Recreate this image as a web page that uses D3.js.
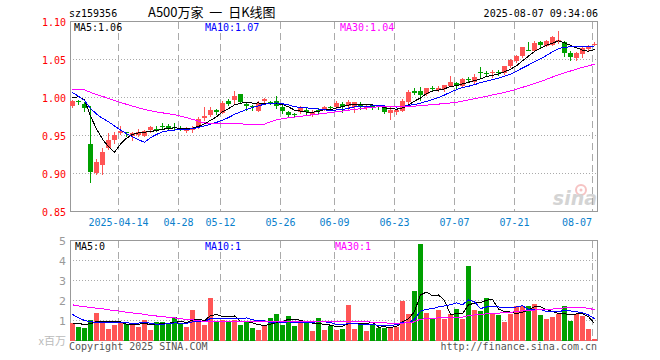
<!DOCTYPE html>
<html>
<head>
<meta charset="utf-8">
<script src="https://cdnjs.cloudflare.com/ajax/libs/d3/7.8.5/d3.min.js"></script>
<style>
  body { margin: 0; background: #fff; }
  svg text { font-family: 'DejaVu Sans Mono', monospace; font-size: 10px; }
</style>
</head>
<body>
<div id="chart"></div>
<script>
// daily bars, 2025-04-01 .. 2025-08-07
var dates = ['04-01','04-02','04-03','04-07','04-08','04-09','04-10','04-11','04-14','04-15','04-16','04-17','04-18','04-21','04-22','04-23','04-24','04-25','04-28','04-29','04-30',
  '05-06','05-07','05-08','05-09','05-12','05-13','05-14','05-15','05-16','05-19','05-20','05-21','05-22','05-23','05-26','05-27','05-28','05-29','05-30',
  '06-03','06-04','06-05','06-06','06-09','06-10','06-11','06-12','06-13','06-16','06-17','06-18','06-19','06-20','06-23','06-24','06-25','06-26','06-27','06-30',
  '07-01','07-02','07-03','07-04','07-07','07-08','07-09','07-10','07-11','07-14','07-15','07-16','07-17','07-18','07-21','07-22','07-23','07-24','07-25','07-28','07-29','07-30','07-31',
  '08-01','08-04','08-05','08-06','08-07'];

var opens = [0.989,0.995,0.992,0.939,0.901,0.911,0.933,0.944,0.953,0.954,0.949,0.950,0.950,0.957,0.959,0.963,0.963,0.961,0.960,0.957,0.957,
  0.961,0.974,0.977,0.984,0.980,0.996,0.997,1.004,0.991,0.989,0.983,0.995,0.994,0.995,0.987,0.981,0.978,0.981,0.984,
  0.977,0.984,0.984,0.988,0.988,0.992,0.989,0.987,0.991,0.987,0.990,0.989,0.987,0.979,0.980,0.983,0.994,1.009,1.009,1.004,
  1.013,1.010,1.011,1.016,1.019,1.016,1.024,1.020,1.033,1.032,1.032,1.033,1.032,1.041,1.048,1.054,1.063,1.062,1.073,1.069,1.070,1.073,1.073,
  1.058,1.053,1.057,1.064,1.070];
var highs = [0.997,0.997,0.994,0.989,0.919,0.934,0.953,0.955,0.962,0.955,0.954,0.958,0.957,0.963,0.962,0.966,0.965,0.966,0.962,0.961,0.962,
  0.974,0.988,0.988,0.985,0.996,0.998,1.008,1.004,0.994,0.990,0.995,0.999,0.996,1.002,0.990,0.982,0.980,0.989,0.986,
  0.983,0.986,0.989,0.989,0.995,0.994,0.997,0.994,0.994,0.990,0.991,0.990,0.988,0.987,0.985,0.998,1.010,1.012,1.014,1.013,
  1.015,1.015,1.017,1.028,1.020,1.026,1.027,1.031,1.040,1.035,1.036,1.036,1.042,1.051,1.056,1.066,1.073,1.074,1.074,1.076,1.081,1.088,1.075,
  1.061,1.060,1.066,1.069,1.073];
var lows = [0.987,0.991,0.982,0.889,0.900,0.900,0.932,0.940,0.952,0.950,0.944,0.949,0.949,0.955,0.956,0.958,0.957,0.958,0.957,0.955,0.955,
  0.960,0.970,0.976,0.978,0.979,0.990,0.991,0.993,0.983,0.983,0.982,0.993,0.992,0.986,0.979,0.975,0.974,0.979,0.977,
  0.976,0.980,0.983,0.985,0.985,0.981,0.985,0.981,0.985,0.985,0.985,0.985,0.979,0.972,0.978,0.982,0.993,1.005,0.997,1.003,
  1.008,1.008,1.009,1.016,1.013,1.015,1.021,1.019,1.027,1.029,1.027,1.030,1.031,1.040,1.047,1.053,1.062,1.061,1.066,1.068,1.069,1.072,1.055,
  1.049,1.049,1.053,1.063,1.069];
var closes = [0.995,0.994,0.987,0.902,0.915,0.928,0.944,0.951,0.956,0.953,0.953,0.954,0.956,0.961,0.958,0.962,0.959,0.960,0.959,0.959,0.960,
  0.972,0.976,0.983,0.982,0.993,0.992,1.002,0.993,0.988,0.988,0.993,0.998,0.993,0.988,0.982,0.977,0.977,0.987,0.981,
  0.981,0.983,0.988,0.987,0.993,0.988,0.994,0.994,0.987,0.988,0.988,0.988,0.981,0.983,0.983,0.996,1.007,1.007,1.004,1.012,
  1.012,1.013,1.016,1.021,1.015,1.025,1.023,1.027,1.032,1.031,1.033,1.032,1.041,1.049,1.054,1.066,1.062,1.072,1.069,1.075,1.080,1.076,1.059,
  1.053,1.059,1.065,1.068,1.071];
// volume, millions
var volumes = [0.9,0.7,0.65,1.05,1.4,0.93,0.6,0.8,0.93,0.83,0.8,0.7,1.05,0.55,0.95,0.95,0.83,1.2,0.83,0.7,1.55,
  1.05,0.8,2.15,0.92,1.05,0.98,1.05,0.8,0.92,0.65,0.55,0.8,1.15,1.35,0.8,1.25,0.75,0.92,0.92,
  0.5,1.15,0.55,0.72,0.55,0.6,1.8,0.6,0.8,0.5,0.8,0.65,0.65,0.7,0.7,2.0,1.35,2.5,4.85,1.4,
  1.1,1.55,1.1,1.35,1.6,1.1,3.75,1.55,1.5,2.15,1.35,1.3,0.95,1.35,1.75,1.75,1.75,1.85,1.3,1.1,1.2,1.35,1.75,
  1.0,1.35,1.25,0.6,0.05];

// 29 sessions before 04-01, only needed to seed the moving averages
var priorCloses = [0.995,0.998,1.000,1.001,0.999,1.025,1.032,1.034,1.028,1.024,1.020,1.018,1.016,1.005,0.998,0.996,0.998,1.010,1.020,1.030,
  1.045,1.042,1.005,0.990,0.984,0.990,1.005,1.010,1.000];
var priorVolumes = [2.3,1.9,2.1,2.6,1.8,2.2,1.7,2.0,2.4,1.9,1.6,2.1,2.3,1.8,1.7,2.2,1.9,2.0,1.8,2.15,
  2.4,1.95,1.75,1.7,1.0,0.7,0.9,0.85,0.9];

var tickDates = ['04-14','04-28','05-12','05-26','06-09','06-23','07-07','07-21','08-07'];
var tickLabels = ['2025-04-14','04-28','05-12','05-26','06-09','06-23','07-07','07-21','08-07'];
var priceTicks = [1.10, 1.05, 1.00, 0.95, 0.90, 0.85];
var volumeTicks = [5, 4, 3, 2, 1];
var maPeriods = [5, 10, 30];
var maColors = ['#000', '#0000ff', '#ff00ff'];
var priceLegend = ['MA5:1.06', 'MA10:1.07', 'MA30:1.04'];
var volumeLegend = ['MA5:0', 'MA10:1', 'MA30:1'];

var width = 660, height = 360;
var up = '#ff5555', down = '#00a000';

function movingAverage(prior, values, n) {
  var all = prior.concat(values);
  return values.map(function(v, i) {
    var j = prior.length + i;
    return d3.mean(all.slice(j - n + 1, j + 1));
  });
}

var svg = d3.select('#chart').append('svg')
  .attr('width', width)
  .attr('height', height);

var x = d3.scaleBand()
  .domain(dates)
  .range([69.5, 597.5])
  .paddingInner(1 / 6)
  .paddingOuter(1 / 12);
var bw = x.bandwidth();
function cx(d) { return Math.round(x(d)) + 2.5; }

var y = d3.scaleLinear().domain([0.85, 1.10]).range([211.5, 21.5]);
var yv = d3.scaleLinear().domain([0, 5]).range([340.5, 240.5]);

// header
svg.append('text').attr('x', 69).attr('y', 17).text('sz159356');
svg.append('text').attr('x', 148).attr('y', 17)
  .attr('xml:space', 'preserve').style('white-space', 'pre')
  .style('font-family', "'Noto Sans CJK SC', sans-serif").style('font-size', '13px')
  .text('A500万家  一  日K线图');
svg.append('text').attr('x', 598).attr('y', 17).attr('text-anchor', 'end').text('2025-08-07 09:34:06');

// grid
function grid(g, scale, ticks, top, bottom) {
  g.selectAll('.h').data(ticks).enter().append('line')
    .attr('x1', 70).attr('x2', 598)
    .attr('y1', function(t) { return Math.round(scale(t) - 0.5) + 0.5; })
    .attr('y2', function(t) { return Math.round(scale(t) - 0.5) + 0.5; })
    .attr('stroke', '#aaa').attr('stroke-dasharray', '1,2');
  g.selectAll('.v').data(tickDates).enter().append('line')
    .attr('x1', function(d) { return cx(d) - 2; })
    .attr('x2', function(d) { return cx(d) - 2; })
    .attr('y1', top).attr('y2', bottom)
    .attr('stroke', '#aaa').attr('stroke-dasharray', '7,4');
}
grid(svg.append('g'), y, priceTicks.slice(1, -1), 22, 211);
grid(svg.append('g'), yv, volumeTicks.slice(1), 241, 340);

// frames
svg.append('rect').attr('x', 70.5).attr('y', 21.5).attr('width', 527).attr('height', 190)
  .attr('fill', 'none').attr('stroke', '#999');
svg.append('rect').attr('x', 70.5).attr('y', 240.5).attr('width', 527).attr('height', 100)
  .attr('fill', 'none').attr('stroke', '#999');

// price axis labels
svg.selectAll('.py').data(priceTicks).enter().append('text')
  .attr('x', 66).attr('y', function(t) { return y(t) + 4; })
  .attr('text-anchor', 'end').attr('fill', '#f00')
  .text(function(t) { return t.toFixed(2); });

// date labels, the last one kept inside the frame
svg.selectAll('.xl').data(tickDates).enter().append('text')
  .attr('x', function(d, i) { return i === tickDates.length - 1 ? 592 : cx(d) - 2; })
  .attr('y', 226)
  .attr('text-anchor', function(d, i) { return i === tickDates.length - 1 ? 'end' : 'middle'; })
  .attr('fill', '#0a80cc')
  .text(function(d, i) { return tickLabels[i]; });

// volume axis labels
svg.selectAll('.vy').data(volumeTicks).enter().append('text')
  .attr('x', 66).attr('y', function(t) { return yv(t) + 4; })
  .attr('text-anchor', 'end').attr('fill', '#999')
  .style('font-family', "'DejaVu Sans', sans-serif").style('font-size', '11px')
  .text(function(t) { return t; });
svg.append('text').attr('x', 66).attr('y', 345).attr('text-anchor', 'end').attr('fill', '#bbb')
  .style('font-family', "'Noto Sans CJK SC', sans-serif").style('font-size', '11px')
  .text('x百万');

// sina watermark
var mark = svg.append('g').attr('opacity', 0.5);
mark.append('circle').attr('cx', 581).attr('cy', 190).attr('r', 5)
  .attr('fill', 'none').attr('stroke', '#e88').attr('stroke-width', 2);
mark.append('circle').attr('cx', 581).attr('cy', 190).attr('r', 1.5).attr('fill', '#e88');
mark.append('text').attr('x', 597).attr('y', 205).attr('text-anchor', 'end')
  .style('font-family', "'DejaVu Sans', sans-serif").style('font-size', '19px')
  .style('font-style', 'italic').style('font-weight', 'bold')
  .attr('fill', '#aaa').text('sina');

// candles
var bars = dates.map(function(d, i) {
  return { date: d, open: opens[i], high: highs[i], low: lows[i], close: closes[i], volume: volumes[i] };
});
function colorOf(b) { return b.close >= b.open ? up : down; }

var candle = svg.append('g').selectAll('g').data(bars).enter().append('g');
candle.append('line')
  .attr('x1', function(b) { return cx(b.date); })
  .attr('x2', function(b) { return cx(b.date); })
  .attr('y1', function(b) { return Math.round(y(b.high)); })
  .attr('y2', function(b) { return Math.round(y(b.low)) + 1; })
  .attr('stroke', colorOf);
candle.append('rect')
  .attr('x', function(b) { return Math.round(x(b.date)); })
  .attr('width', bw)
  .attr('y', function(b) { return Math.round(y(Math.max(b.open, b.close))); })
  .attr('height', function(b) { return Math.max(1, Math.round(Math.abs(y(b.open) - y(b.close)))); })
  .attr('fill', colorOf);

// volume bars
svg.append('g').selectAll('rect').data(bars).enter().append('rect')
  .attr('x', function(b) { return Math.round(x(b.date)); })
  .attr('width', bw)
  .attr('y', function(b) { return Math.round(yv(b.volume)); })
  .attr('height', function(b) { return 341 - Math.round(yv(b.volume)); })
  .attr('fill', colorOf);

// moving averages
maPeriods.forEach(function(n, k) {
  var pm = movingAverage(priorCloses, closes, n);
  var vm = movingAverage(priorVolumes, volumes, n);
  svg.append('path')
    .datum(pm)
    .attr('d', d3.line().x(function(v, i) { return cx(dates[i]); }).y(function(v) { return y(v); }))
    .attr('fill', 'none').attr('stroke', maColors[k]).attr('stroke-width', 1)
    .attr('shape-rendering', 'crispEdges');
  svg.append('path')
    .datum(vm)
    .attr('d', d3.line().x(function(v, i) { return cx(dates[i]); }).y(function(v) { return yv(v); }))
    .attr('fill', 'none').attr('stroke', maColors[k]).attr('stroke-width', 1)
    .attr('shape-rendering', 'crispEdges');
});

// legends
var legendX = [74, 205, 340];
var volLegendX = [75, 205, 335];
priceLegend.forEach(function(s, k) {
  svg.append('text').attr('x', legendX[k]).attr('y', 31).attr('fill', maColors[k]).text(s);
});
volumeLegend.forEach(function(s, k) {
  svg.append('text').attr('x', volLegendX[k]).attr('y', 250).attr('fill', maColors[k]).text(s);
});

// footer
svg.append('text').attr('x', 69).attr('y', 350).attr('fill', '#555').text('Copyright 2025 SINA.COM');
svg.append('text').attr('x', 597).attr('y', 350).attr('text-anchor', 'end').attr('fill', '#555')
  .text('http://finance.sina.com.cn');
</script>
</body>
</html>
